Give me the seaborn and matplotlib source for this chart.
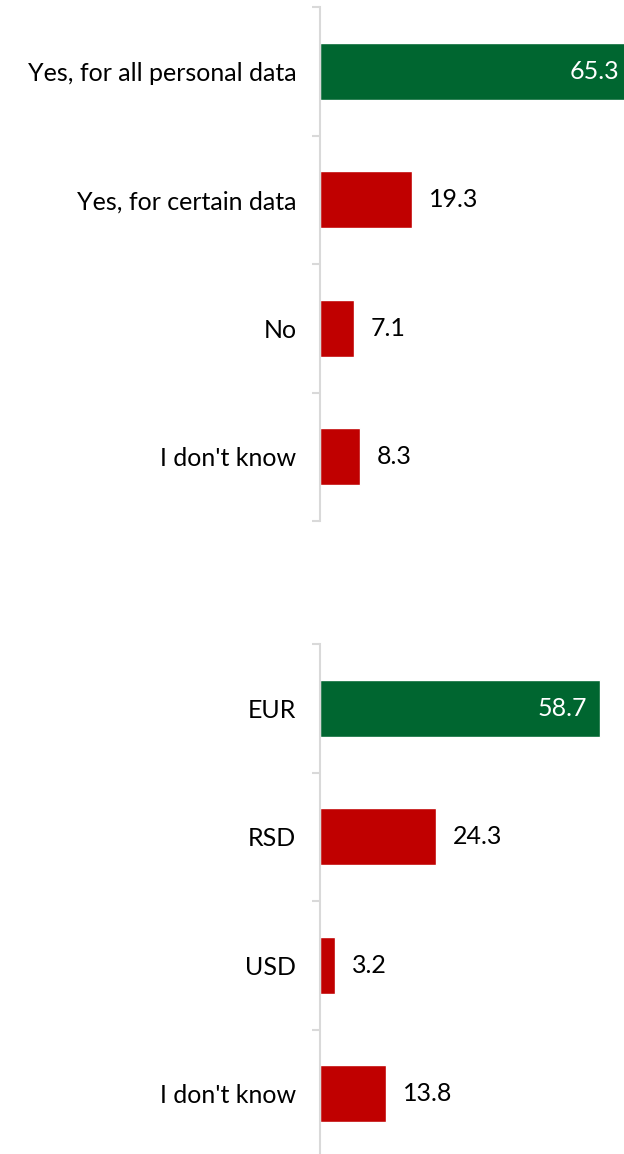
import matplotlib
matplotlib.use("Agg")
import matplotlib.pyplot as plt
import seaborn as sns
import pandas as pd

sns.set_theme(style="white")
plt.rcParams['font.family'] = ['Lato', 'DejaVu Sans']

consent_labels = ["Yes, for all personal data", "Yes, for certain data", "No", "I don't know"]
consent_values = [65.3, 19.3, 7.1, 8.3]

currency_labels = ["EUR", "RSD", "USD", "I don't know"]
currency_values = [58.7, 24.3, 3.2, 13.8]

GREEN = "#006630"
RED = "#C00000"
AXIS_GREY = "#D9D9D9"
FS = 18

fig = plt.figure(figsize=(6.24, 11.54), dpi=100)

W, H = 624, 1154
left_px, px_per_unit, xmax = 320, 4.77, 70.0
ax_w = px_per_unit * xmax / W


def panel(top_px, bottom_px, labels, values):
    ax = fig.add_axes([left_px / W, 1 - bottom_px / H, ax_w, (bottom_px - top_px) / H])
    df = pd.DataFrame({"label": labels, "value": values})
    colors = [GREEN] + [RED] * (len(labels) - 1)
    sns.barplot(data=df, x="value", y="label", hue="label", palette=colors,
                legend=False, width=0.444, saturation=1, ax=ax, orient="h")
    ax.set_xlim(0, xmax)
    ax.set_ylim(len(labels) - 0.5, -0.5)
    ax.set_xlabel("")
    ax.set_ylabel("")
    for s in ["top", "right", "bottom"]:
        ax.spines[s].set_visible(False)
    ax.spines["left"].set_color(AXIS_GREY)
    ax.spines["left"].set_linewidth(1.5)
    ax.set_xticks([])
    ax.set_yticks(range(len(labels)))
    ax.set_yticklabels(labels, fontsize=FS, color="#000000")
    ax.set_yticks([i - 0.5 for i in range(len(labels) + 1)], minor=True)
    ax.tick_params(axis="y", which="major", length=0, pad=17)
    ax.tick_params(axis="y", which="minor", length=5.5, width=1.5, color=AXIS_GREY, left=True)
    for i, v in enumerate(values):
        if i == 0:
            ax.annotate(f"{v:.1f}", (v, i), xytext=(-9, 0), textcoords="offset points",
                        ha="right", va="center", fontsize=FS, color="white",
                        annotation_clip=False)
        else:
            ax.annotate(f"{v:.1f}", (v, i), xytext=(12, 0), textcoords="offset points",
                        ha="left", va="center", fontsize=FS, color="black")
    return ax


panel(7, 521, consent_labels, consent_values)
panel(644, 1158, currency_labels, currency_values)

fig.savefig("out.png", dpi=100)
